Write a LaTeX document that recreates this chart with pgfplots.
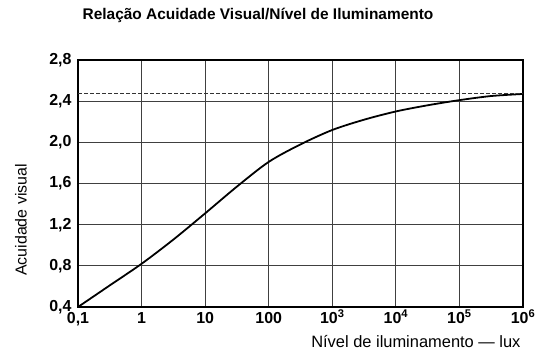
\documentclass[border=0pt]{standalone}
\usepackage{pgfplots}
\pgfplotsset{compat=1.18}
\usepackage{fontspec}
\setmainfont{Liberation Sans}
\begin{document}
\begin{tikzpicture}[x=1bp,y=1bp]
\useasboundingbox (0,0) rectangle (535,356);
\begin{axis}[
  at={(78bp,49bp)}, anchor=south west,
  width=445bp, height=247bp, scale only axis,
  xmode=log, xmin=0.1, xmax=1e6, ymin=0.4, ymax=2.8,
  xtick={0.1,1,10,100,1000,10000,100000,1000000},
  xticklabels={{0,1},1,10,100,{10\textsuperscript{3}},{10\textsuperscript{4}},{10\textsuperscript{5}},{10\textsuperscript{6}}},
  ytick={0.4,0.8,1.2,1.6,2.0,2.4,2.8},
  yticklabels={{0,4},{0,8},{1,2},{1,6},{2,0},{2,4},{2,8}},
  minor tick num=0, minor xtick={},
  major tick length=0pt, minor tick length=0pt,
  xticklabel style={font=\fontsize{16}{16}\selectfont\bfseries, text height=12bp, text depth=3bp, yshift=-1bp},
  yticklabel style={font=\fontsize{16}{16}\selectfont\bfseries, xshift=-3bp},
  grid=major,
  major grid style={line width=0.9pt, black!75},
  axis line style={line width=1.4pt, black},
  clip=false,
]
\addplot[line width=1.8pt, black, smooth] coordinates {
 (0.1,0.40) (0.316,0.61) (1,0.82) (3.16,1.055) (10,1.31) (31.6,1.57)
 (100,1.81) (316,1.98) (1000,2.12) (3162,2.22) (10000,2.30)
 (31620,2.36) (100000,2.41) (316200,2.45) (1000000,2.47)
};
\addplot[line width=0.8pt, black!80, dash pattern=on 4bp off 2bp] coordinates {(0.1,2.475) (1000000,2.475)};
\end{axis}
\node[font=\fontsize{15.5}{15.5}\selectfont\bfseries] at (258,341) {Relação Acuidade Visual/Nível de Iluminamento};
\node[font=\fontsize{16}{16}\selectfont, rotate=90] at (21,136) {Acuidade visual};
\node[font=\fontsize{16.5}{16.5}\selectfont, anchor=east] at (524,14) {Nível de iluminamento — lux};
\end{tikzpicture}
\end{document}
